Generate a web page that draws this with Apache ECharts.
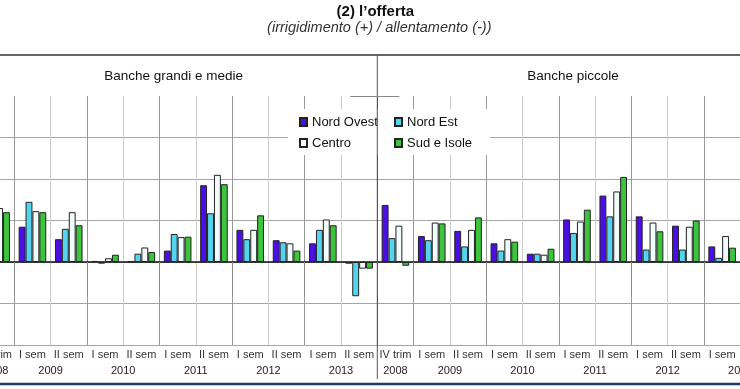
<!DOCTYPE html>
<html>
<head>
<meta charset="utf-8">
<script src="https://cdn.jsdelivr.net/npm/echarts@6/dist/echarts.min.js"></script>
<style>
html,body{margin:0;padding:0;background:#fff;}
#c{width:740px;height:389px;}
</style>
</head>
<body>
<div id="c"></div>
<script>
// ---- data ----
const panels = ['Banche grandi e medie', 'Banche piccole'];
const periods = ['IV trim','I sem','II sem','I sem','II sem','I sem','II sem','I sem','II sem','I sem','II sem',
                 'IV trim','I sem','II sem','I sem','II sem','I sem','II sem','I sem','II sem','I sem','II sem'];
const years = ['2008','2009','2009','2010','2010','2011','2011','2012','2012','2013','2013',
               '2008','2009','2009','2010','2010','2011','2011','2012','2012','2013','2013'];
const seriesNames = ['Nord Ovest','Nord Est','Centro','Sud e Isole'];
const nordOvest = [0.30, 0.17, 0.11, 0.005, 0.003, 0.055, 0.37, 0.155, 0.105, 0.09, -0.008,
                   0.275, 0.125, 0.15, 0.09, 0.04, 0.205, 0.32, 0.22, 0.175, 0.075, 0.10];
const nordEst   = [0.22, 0.29, 0.16, -0.008, 0.04, 0.135, 0.235, 0.11, 0.095, 0.155, -0.165,
                   0.115, 0.105, 0.075, 0.055, 0.04, 0.14, 0.22, 0.06, 0.06, 0.02, 0.05];
const centro    = [0.26, 0.245, 0.24, 0.018, 0.07, 0.12, 0.42, 0.155, 0.09, 0.205, -0.032,
                   0.175, 0.19, 0.155, 0.11, 0.035, 0.195, 0.34, 0.19, 0.17, 0.125, 0.10];
const sudIsole  = [0.24, 0.24, 0.177, 0.035, 0.048, 0.122, 0.375, 0.225, 0.055, 0.177, -0.032,
                   -0.018, 0.186, 0.215, 0.098, 0.064, 0.252, 0.41, 0.148, 0.2, 0.069, 0.08];
const yMin = -0.4, yMax = 0.8, yStep = 0.2;

// ---- derived ----
const categories = periods.map((p, i) => p + ' ' + years[i]);
const nCat = categories.length;
const perPanel = nCat / panels.length;
function isYearStart(i){ return i === 0 || i === nCat || years[i] !== years[i-1]; }
const yearCenters = {};
let s = 0;
for (let i = 1; i <= nCat; i++) {
  if (i === nCat || years[i] !== years[i-1]) {
    yearCenters[((s + i) / 2).toFixed(1)] = years[s];
    s = i;
  }
}
const vColors = [];
for (let i = 0; i <= nCat; i++) {
  vColors.push(i === perPanel ? '#555' : (isYearStart(i) ? '#999' : '#cbcbcb'));
}
const palette = ['#4a0fe3', '#55d4f0', '#f2fbfb', '#3cc43c'];
const valueLists = [nordOvest, nordEst, centro, sudIsole];

const font = 'Liberation Sans, Arial, sans-serif';
const chart = echarts.init(document.getElementById('c'), null, {renderer: 'canvas'});
const option = {
  animation: false,
  backgroundColor: '#fff',
  textStyle: {fontFamily: font},
  grid: {left: -22, right: -36.6, top: 96, bottom: 44, containLabel: false, outerBoundsMode: 'none'},
  legend: {
    data: seriesNames,
    left: 288, top: 109, width: 190,
    orient: 'horizontal',
    backgroundColor: '#fff',
    padding: [6, 8, 5, 11],
    itemWidth: 7, itemHeight: 8, itemGap: 7,
    icon: 'rect',
    textStyle: {fontSize: 13, color: '#111', width: 75, lineHeight: 14, fontFamily: font},
    selectedMode: false
  },
  xAxis: [{
    type: 'category',
    data: categories,
    boundaryGap: true,
    axisLine: {show: true, lineStyle: {color: '#111', width: 1.5}},
    axisTick: {show: true, length: 34, interval: (i) => isYearStart(i), lineStyle: {color: '#888'}},
    axisLabel: {interval: 0, margin: 4, fontSize: 11, color: '#333',
                formatter: (v, i) => periods[i]},
    splitLine: {show: true, interval: 0, lineStyle: {color: vColors, width: 1}}
  }, {
    type: 'value',
    position: 'bottom',
    min: 0, max: nCat, interval: 0.5,
    axisLine: {show: false}, axisTick: {show: false}, splitLine: {show: false},
    axisLabel: {show: true, margin: 20, fontSize: 11, color: '#222', showMinLabel: true, showMaxLabel: true,
                formatter: (v) => yearCenters[v.toFixed(1)] || ''}
  }],
  yAxis: {
    type: 'value', min: yMin, max: yMax, interval: yStep,
    axisLabel: {show: false}, axisLine: {show: false}, axisTick: {show: false},
    splitLine: {show: true, showMaxLine: false, lineStyle: {color: '#a5a5a5', width: 1}}
  },
  series: seriesNames.map((n, k) => ({
    name: n, type: 'bar', xAxisIndex: 0,
    data: valueLists[k],
    barGap: '0%', barCategoryGap: '24%',
    itemStyle: {color: palette[k], borderColor: '#222', borderWidth: 1}
  }))
};
chart.setOption(option);

const xDiv = chart.convertToPixel({xAxisIndex: 1}, perPanel);
const yTop = chart.convertToPixel({yAxisIndex: 0}, yMax);
const yBot = chart.convertToPixel({yAxisIndex: 0}, yMin);
const panelX = panels.map((p, k) => chart.convertToPixel({xAxisIndex: 1}, perPanel * (k + 0.5)));
const headerY = 55;
chart.setOption({
  graphic: [
    {type: 'text', z: 10,
     style: {text: '(2) l’offerta', x: xDiv - 2, y: 4, font: 'bold 15px ' + font, fill: '#111', textAlign: 'center'}},
    {type: 'text', z: 10,
     style: {text: '(irrigidimento (+) / allentamento (-))', x: xDiv + 2, y: 20, font: 'italic 14.5px ' + font, fill: '#333', textAlign: 'center'}},
    {type: 'line', shape: {x1: 0, y1: headerY, x2: 740, y2: headerY}, style: {stroke: '#333', lineWidth: 1.5}, z: 10},
    {type: 'line', shape: {x1: xDiv, y1: headerY, x2: xDiv, y2: yBot + 34}, style: {stroke: '#555', lineWidth: 1}, z: 10},
    {type: 'line', shape: {x1: xDiv - 27, y1: yTop + 0.5, x2: xDiv + 22, y2: yTop + 0.5}, style: {stroke: '#888', lineWidth: 1}, z: 10},
    {type: 'line', shape: {x1: 0, y1: 384, x2: 740, y2: 384}, style: {stroke: '#1d3a63', lineWidth: 2.5}, z: 10}
  ].concat(panels.map((p, k) => ({
    type: 'text', z: 10,
    style: {text: p, x: panelX[k] - 4, y: 69, font: '13.5px ' + font, fill: '#111', textAlign: 'center'}
  })))
});
</script>
</body>
</html>
